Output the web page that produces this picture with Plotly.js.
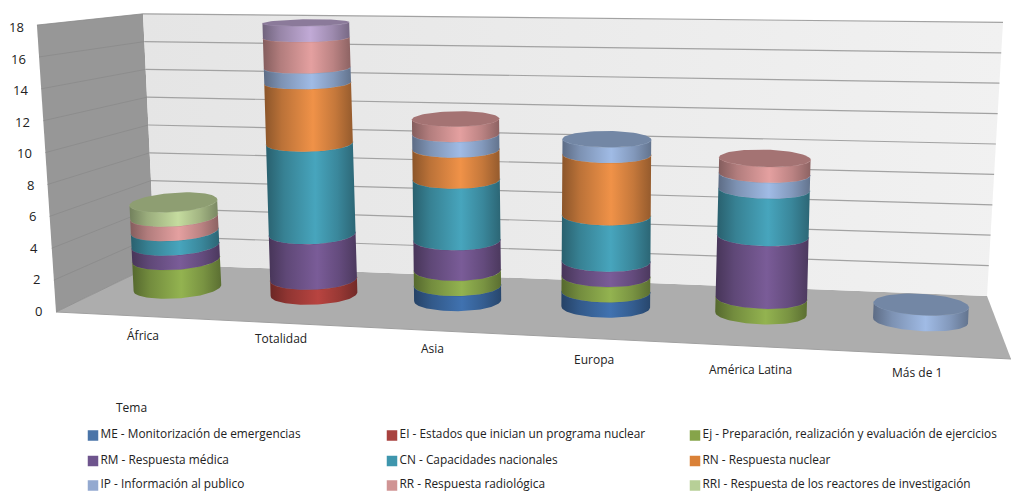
<!DOCTYPE html>
<html lang="es">
<head>
<meta charset="utf-8">
<script src="https://cdn.plot.ly/plotly-3.0.1.min.js"></script>
<style>html,body{margin:0;padding:0;background:#fff}#chart{width:1011px;height:494px}</style>
</head>
<body>
<div id="chart"></div>
<script>
// Number of activities per region, stacked by theme.
const categories = ['África', 'Totalidad', 'Asia', 'Europa', 'América Latina', 'Más de 1'];
const ME    = [0, 0, 1, 1, 0, 0];
const EI    = [0, 1, 0, 0, 0, 0];
const Ej    = [2, 0, 1, 1, 1, 0];
const RM    = [1, 3, 2, 1, 4, 0];
const CN    = [1, 6, 4, 3, 3, 0];
const RN    = [0, 4, 2, 4, 0, 0];
const IP    = [0, 1, 1, 1, 1, 1];
const RR    = [1, 2, 1, 0, 1, 0];
const RRI   = [1, 0, 0, 0, 0, 0];
const OTHER = [0, 1, 0, 0, 0, 0];   // top band of Totalidad, no legend entry
const tickLabels = [0, 2, 4, 6, 8, 10, 12, 14, 16, 18];

const seriesNames = [
  'ME - Monitorización de emergencias', 'EI - Estados que inician un programa nuclear',
  'Ej - Preparación, realización y evaluación de ejercicios', 'RM - Respuesta médica',
  'CN - Capacidades nacionales', 'RN - Respuesta nuclear', 'IP - Información al publico',
  'RR - Respuesta radiológica', 'RRI - Respuesta de los reactores de investigación', ''
];
const seriesValues = [ME, EI, Ej, RM, CN, RN, IP, RR, RRI, OTHER];
const seriesColors = [[64,114,176],[184,68,64],[147,179,80],[122,92,152],[71,165,189],
                      [240,146,72],[160,187,229],[228,160,160],[197,220,159],[193,170,214]];
const legendColors = ['#4a74a8','#a8423f','#86a44a','#6e548d','#3e96ad',
                      '#da8137','#93a9d0','#d09494','#b7cf97',''];

const FONT = '"Open Sans", "Noto Sans", sans-serif';

// Oblique room: floor corners in screen units, with the lean and height per unit at each corner.
const corner = {
  frontLeft:  {x: 56,  y: 312, lean: -1.06, rise: 15.94},
  frontRight: {x: 1011,y: 359, lean: 0.8,   rise: 17},
  backRight:  {x: 987, y: 296, lean: 0.889, rise: 15.2},
  backLeft:   {x: 155, y: 264, lean: -0.667,rise: 13.9}
};
const slotU = [0.075, 0.229, 0.391, 0.558, 0.733, 0.913];
const slotW = 0.56;
const slotRise = [0.96, 1, 0.99, 0.985, 0.99, 1];
const AXIS_MAX = 18;

function blend(key, u, w) {
  return corner.frontLeft[key]*(1-u)*(1-w) + corner.frontRight[key]*u*(1-w)
       + corner.backRight[key]*u*w + corner.backLeft[key]*(1-u)*w;
}
function project(u, w, v) {
  return [blend('x',u,w) + blend('lean',u,w)*v, blend('y',u,w) - blend('rise',u,w)*v];
}
// Rim of a cylinder: the circle on the floor moved up to height v; it flattens as v grows.
function rimPoint(slot, v, t) {
  const u = slotU[slot], ru = 0.0435 + 0.011*u, rw = 0.22 - 0.05*u;
  const c0 = project(u, slotW, 0), c = project(u, slotW, v * slotRise[slot]);
  const p = project(u + ru*Math.cos(t), slotW + rw*Math.sin(t), 0);
  const squash = 1 - 0.0021*v*v;
  return [c[0] + p[0]-c0[0], c[1] + (p[1]-c0[1])*squash];
}
function frontArc(slot, v) {
  const a = rimPoint(slot, v, 0), b = rimPoint(slot, v, Math.PI/2);
  const c = project(slotU[slot], slotW, v * slotRise[slot]);
  const t0 = Math.atan2(b[0]-c[0], a[0]-c[0]);
  const pts = [];
  for (let i = 0; i <= 48; i++) pts.push(rimPoint(slot, v, t0 + Math.PI + Math.PI*i/48));
  return pts;
}
function fullRim(slot, v) {
  const pts = [];
  for (let i = 0; i <= 72; i++) pts.push(rimPoint(slot, v, 2*Math.PI*i/72));
  return pts;
}
const xs = pts => pts.map(p => p[0]);
const ys = pts => pts.map(p => p[1]);
const rgb = (c, k) => 'rgb(' + c.map(n => Math.round(Math.min(255, n*k))).join(',') + ')';

const traces = [];
function plane(pts, fill, gradient) {
  const t = {x: xs(pts), y: ys(pts), mode: 'lines', fill: 'toself', fillcolor: fill,
             line: {width: 0}, hoverinfo: 'skip', showlegend: false};
  if (gradient) t.fillgradient = gradient;
  traces.push(t);
}
function wire(pts, color, width) {
  traces.push({x: xs(pts), y: ys(pts), mode: 'lines', line: {color, width},
               hoverinfo: 'skip', showlegend: false});
}

// Walls and floor
plane([project(0,0,0), project(0,1,0), project(1,1,0), project(1,0,0), project(0,0,0)], '#adadad');
plane([project(0,0,0), project(0,0,AXIS_MAX), project(0,1,AXIS_MAX), project(0,1,0), project(0,0,0)], '#979797');
plane([project(0,1,0), project(0,1,AXIS_MAX), project(1,1,AXIS_MAX), project(1,1,0), project(0,1,0)], '#ebebeb',
      {type: 'horizontal', colorscale: [[0,'#e5e5e5'],[1,'#f1f1f1']]});
wire([project(0,0,0), project(1,0,0)], '#a0a0a0', 1);

// Grid lines, running along the side wall and then the back wall
tickLabels.forEach(v => {
  wire([project(0,0,v), project(0,1,v)], '#8a8a8a', 0.8);
  if (v > 0) wire([project(0,1,v), project(1,1,v)], '#a2a2a2', 1.2);
});

// Stacked cylinders
const sideStops = [[0,0.58],[0.2,0.78],[0.55,1],[0.8,0.82],[1,0.62]];
categories.forEach((_, slot) => {
  let level = 0, topSeries = -1;
  seriesValues.forEach((vals, s) => {
    const value = vals[slot];
    if (!value) return;
    const lower = frontArc(slot, level), upper = frontArc(slot, level + value);
    const outline = lower.concat(upper.slice().reverse(), [lower[0]]);
    plane(outline, rgb(seriesColors[s], 1), {
      type: 'horizontal',
      colorscale: sideStops.map(([p, k]) => [p, rgb(seriesColors[s], k)])
    });
    wire(upper, rgb(seriesColors[s], 0.8), 0.7);
    level += value;
    topSeries = s;
  });
  if (topSeries >= 0) plane(fullRim(slot, level), rgb(seriesColors[topSeries], 0.72));
});

// Colour key, three columns by three rows
const keyX = [93, 392, 695], keyY = [435.5, 461, 485.5];
seriesNames.forEach((name, s) => {
  if (!name) return;
  traces.push({
    x: [keyX[s % 3]], y: [keyY[Math.floor(s / 3)]], mode: 'markers+text', name,
    text: [name], textposition: 'middle right',
    textfont: {family: FONT, size: 11.85, color: '#222'},
    marker: {symbol: 'square', size: 10.5, color: legendColors[s]},
    hoverinfo: 'skip', showlegend: false, cliponaxis: false
  });
});

const annotations = [];
const label = (x, y, text, xanchor) => annotations.push({
  x, y, text, xanchor, yanchor: 'middle', showarrow: false, xref: 'x', yref: 'y',
  font: {family: FONT, size: 12, color: '#222'}
});
// Value labels follow the slant of the side wall
tickLabels.forEach(v => {
  annotations.push({x: 44 - 1.0*v, y: 310.5 - 15.75*v, text: String(v), xanchor: 'right', yanchor: 'middle',
    showarrow: false, xref: 'x', yref: 'y', font: {family: FONT, size: 13, color: '#222'}});
});
// Category labels sit just in front of the floor
const labelX = [143, 281, 432, 594, 750, 917], labelY = [335, 338, 348, 359, 369, 372.5];
categories.forEach((c, i) => label(labelX[i], labelY[i], c, 'center'));
label(114, 407.5, 'Tema', 'left');

Plotly.newPlot('chart', traces, {
  width: 1011, height: 494,
  margin: {l: 0, r: 0, t: 0, b: 0},
  paper_bgcolor: '#fff', plot_bgcolor: '#fff',
  xaxis: {range: [0, 1011], visible: false, fixedrange: true},
  yaxis: {range: [494, 0], visible: false, fixedrange: true},
  showlegend: false,
  annotations
}, {staticPlot: true, displayModeBar: false});
</script>
</body>
</html>
